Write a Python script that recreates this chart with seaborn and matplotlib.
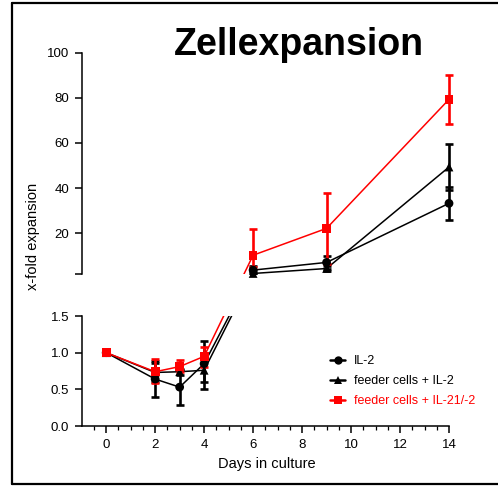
import numpy as np
import pandas as pd
import matplotlib
matplotlib.use("Agg")
import matplotlib.pyplot as plt
from matplotlib.lines import Line2D
from matplotlib.ticker import MultipleLocator, FixedLocator, FixedFormatter
import seaborn as sns

# mean and lower/upper error bar ends
days = [0, 2, 3, 4, 6, 9, 14]
groups = ['IL-2', 'feeder cells + IL-2', 'feeder cells + IL-21/-2']
il2_mean = [1.0, 0.64, 0.53, 0.85, 3.6, 7.0, 33.2]
il2_lo = [1.0, 0.39, 0.29, 0.50, 2.2, 4.2, 25.8]
il2_hi = [1.0, 0.89, 0.77, 1.16, 5.3, 9.8, 40.3]
feeder_mean = [1.0, 0.73, 0.74, 0.76, 2.1, 4.3, 49.3]
feeder_lo = [1.0, 0.60, 0.70, 0.60, 2.0, 3.4, 39.0]
feeder_hi = [1.0, 0.86, 0.78, 0.92, 3.0, 5.2, 59.6]
il21_mean = [1.0, 0.74, 0.81, 0.95, 10.2, 22.1, 79.3]
il21_lo = [1.0, 0.58, 0.74, 0.81, 5.0, 6.3, 68.2]
il21_hi = [1.0, 0.91, 0.90, 1.08, 21.8, 37.9, 90.1]

colors = {'IL-2': 'black', 'feeder cells + IL-2': 'black', 'feeder cells + IL-21/-2': '#ff0000'}
markers = {'IL-2': 'o', 'feeder cells + IL-2': '^', 'feeder cells + IL-21/-2': 's'}

means = [il2_mean, feeder_mean, il21_mean]
los = [il2_lo, feeder_lo, il21_lo]
his = [il2_hi, feeder_hi, il21_hi]

rows = []
for g, m, lo, hi in zip(groups, means, los, his):
    for d, v, l, h in zip(days, m, lo, hi):
        rows.append({'day': d, 'fold': v, 'lo': l, 'hi': h, 'group': g})
df = pd.DataFrame(rows)

sns.set_style("ticks")
plt.rcParams['font.family'] = ['Liberation Sans', 'DejaVu Sans']
plt.rcParams['text.color'] = 'black'
plt.rcParams['axes.labelcolor'] = 'black'
plt.rcParams['axes.edgecolor'] = 'black'
plt.rcParams['xtick.color'] = 'black'
plt.rcParams['ytick.color'] = 'black'

# broken y axis: piecewise linear mapping (pixel-like units)
knots_v = [-1000, 0, 1.5, 2, 100, 1100]
knots_p = [-1000 * 110 / 1.5, 0, 110, 152.3, 373.3, 373.3 + 1000 * 2.255]


def fwd(v):
    return np.interp(v, knots_v, knots_p)


def inv(p):
    return np.interp(p, knots_p, knots_v)


fig = plt.figure(figsize=(4.98, 4.86), dpi=100)
W, H = 498, 486
x0 = 81.7
px_day = (449 - 81.7) / 15
x1 = x0 + 15.4 * px_day
ax_lo = fig.add_axes([x0 / W, 1 - 426 / H, (x1 - x0) / W, (426 - 316) / H])
ax_up = fig.add_axes([x0 / W, 1 - 273.7 / H, (x1 - x0) / W, (273.7 - 52.7) / H])

for ax in (ax_lo, ax_up):
    ax.set_yscale('function', functions=(fwd, inv))
    ax.set_xlim(-1, 14.4)
    sns.lineplot(data=df, x='day', y='fold', hue='group', hue_order=groups,
                 palette=colors, estimator=None, sort=False, legend=False,
                 linewidth=1.1, ax=ax)
    for g in groups:
        sub = df[df['group'] == g]
        ax.errorbar(sub['day'], sub['fold'],
                    yerr=[sub['fold'] - sub['lo'], sub['hi'] - sub['fold']],
                    fmt='none', ecolor=colors[g], elinewidth=1.9,
                    capsize=3.2, capthick=1.9)
    ax.set_xlabel('')
    ax.set_ylabel('')
    ax.patch.set_alpha(0)
    for s in ('top', 'right'):
        ax.spines[s].set_visible(False)
    ax.spines['left'].set_linewidth(1.1)
    ax.spines['bottom'].set_linewidth(1.1)

ax_lo.set_ylim(0, 1.5)
ax_up.set_ylim(2, 100)
ax_lo.spines['bottom'].set_bounds(-1, 14)

# markers drawn unclipped, each on its own segment
low_pts = df[df['fold'] <= 1.5]
up_pts = df[df['fold'] >= 2]
sns.scatterplot(data=low_pts, x='day', y='fold', hue='group', style='group',
                hue_order=groups, style_order=groups, palette=colors,
                markers=markers, s=40, linewidth=0, legend=False,
                clip_on=False, zorder=5, ax=ax_lo)
sns.scatterplot(data=up_pts, x='day', y='fold', hue='group', style='group',
                hue_order=groups, style_order=groups, palette=colors,
                markers=markers, s=40, linewidth=0, legend=False,
                clip_on=False, zorder=5, ax=ax_up)
ax_lo.set_xlabel('')
ax_lo.set_ylabel('')
ax_up.set_xlabel('')
ax_up.set_ylabel('')

# lower segment ticks
ax_lo.yaxis.set_major_locator(FixedLocator([0, 0.5, 1.0, 1.5]))
ax_lo.yaxis.set_major_formatter(FixedFormatter(['0.0', '0.5', '1.0', '1.5']))
ax_lo.yaxis.set_minor_locator(FixedLocator([]))
ax_lo.xaxis.set_major_locator(FixedLocator([0, 2, 4, 6, 8, 10, 12, 14]))
ax_lo.xaxis.set_minor_locator(FixedLocator(np.arange(-0.5, 14, 0.5)))
ax_lo.tick_params(axis='both', which='major', length=5, width=1.1,
                  labelsize=9.5, direction='out', pad=4)
ax_lo.tick_params(axis='x', which='minor', length=3, width=0.9, direction='out')

# upper segment ticks
ax_up.yaxis.set_major_locator(FixedLocator([2, 20, 40, 60, 80, 100]))
ax_up.yaxis.set_major_formatter(FixedFormatter(['', '20', '40', '60', '80', '100']))
ax_up.yaxis.set_minor_locator(FixedLocator([]))
ax_up.tick_params(axis='y', which='major', length=5, width=1.1,
                  labelsize=9.5, direction='out', pad=4)
ax_up.spines['bottom'].set_visible(False)
ax_up.xaxis.set_visible(False)

# legend
handles = [Line2D([0], [0], color=colors[g], marker=markers[g], markersize=6,
                  linewidth=1.8, markeredgewidth=0) for g in groups]
leg = fig.legend(handles, groups, loc='upper left',
                 bbox_to_anchor=(325 / W, 1 - 350 / H), frameon=False,
                 fontsize=9, handlelength=1.2, handletextpad=0.7,
                 labelspacing=0.65, borderaxespad=0)
for t, g in zip(leg.get_texts(), groups):
    t.set_color(colors[g])

fig.text(298.7 / W, 1 - 55 / H, 'Zellexpansion', ha='center', va='baseline',
         fontsize=27, fontweight='bold')
fig.text(33.5 / W, 1 - 236 / H, 'x-fold expansion', rotation=90,
         ha='center', va='center', fontsize=10.5)
fig.text(267 / W, 1 - 464 / H, 'Days in culture', ha='center', va='center',
         fontsize=10.5)

# frame around the figure (no right side)
lw = 1.6
top_y = 1 - 3.5 / H
bot_y = 1 - 484 / H
left_x = 12 / W
fig.add_artist(Line2D([left_x, 1.0], [top_y, top_y], color='black', lw=lw))
fig.add_artist(Line2D([left_x, left_x], [bot_y, top_y], color='black', lw=lw))
fig.add_artist(Line2D([left_x, 1.0], [bot_y, bot_y], color='black', lw=lw))

fig.savefig('out.png', dpi=100)
